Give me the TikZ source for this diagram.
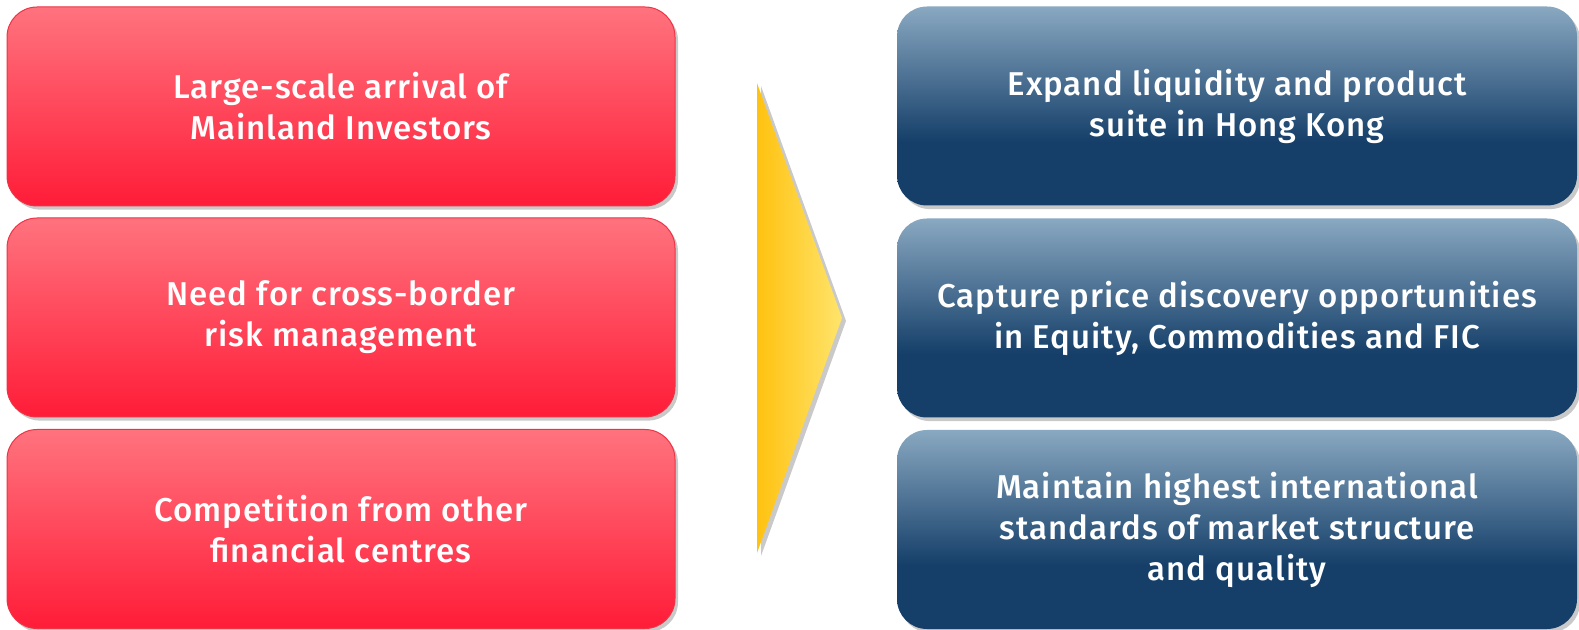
\documentclass[tikz,border=0pt]{standalone}
\usepackage{fontspec}
\setmainfont{Fira Sans}[UprightFont={* Medium}, LetterSpace=3]
\usetikzlibrary{shadows}
\definecolor{rtop}{HTML}{FF737E}
\definecolor{rbot}{HTML}{FF1C38}
\definecolor{rline}{HTML}{EE3346}
\definecolor{blight}{HTML}{89A8C1}
\definecolor{bdark}{HTML}{153F69}
\definecolor{yleft}{HTML}{FFC210}
\definecolor{yright}{HTML}{FFE46C}
\pgfdeclareverticalshading{blueshade}{100bp}{color(0bp)=(bdark); color(25bp)=(bdark); color(41bp)=(bdark); color(75bp)=(blight); color(100bp)=(blight)}
\pgfdeclarehorizontalshading{yellowshade}{100bp}{color(0bp)=(yleft); color(25bp)=(yleft); color(75bp)=(yright); color(100bp)=(yright)}
\tikzset{
  box/.style={rounded corners=15pt, minimum width=334pt, minimum height=99.5pt,
    align=center, text=white, inner sep=0pt,
    font=\fontsize{16.5pt}{20.5pt}\selectfont,
    drop shadow={shadow xshift=1.5pt, shadow yshift=-1.8pt, opacity=0.3, fill=black!70}},
  redbox/.style={box, top color=rtop, bottom color=rbot, draw=rline, line width=0.5pt},
  bluebox/.style={box, minimum width=340pt, shade, shading=blueshade},
}
\begin{document}
\begin{tikzpicture}[x=0.5pt,y=-0.5pt]
\useasboundingbox (0,0) rectangle (1579,630);
\node[redbox] (r1) at (341,106.5) {Large-scale arrival of\\Mainland Investors};
\node[redbox] (r2) at (341,317.5) {Need for cross-border\\risk management};
\node[redbox] (r3) at (341,529) {Competition from other\\financial centres};
\node[bluebox] (b1) at (1237,106) {Expand liquidity and product\\suite in Hong Kong};
\node[bluebox] (b2) at (1237,318) {Capture price discovery opportunities\\in Equity, Commodities and FIC};
\node[bluebox] (b3) at (1237,529.5) {Maintain highest international\\standards of market structure\\and quality};
\coordinate (a1) at (757,83);
\coordinate (a2) at (842,318);
\coordinate (a3) at (757,553);
\shade[shading=yellowshade, drop shadow={shadow xshift=2pt, shadow yshift=-1.5pt, opacity=0.3, fill=black!70}] (a1) -- (a2) -- (a3) -- cycle;
\end{tikzpicture}
\end{document}
